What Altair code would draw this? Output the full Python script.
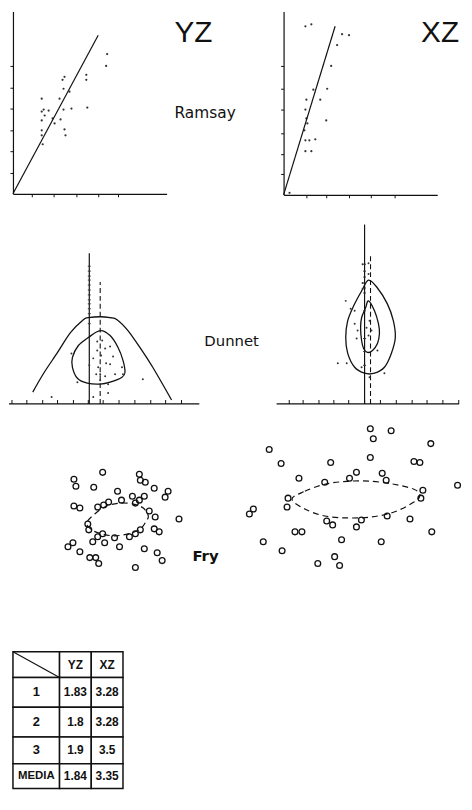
import altair as alt
import pandas as pd

INK = "#111111"
FONT = "DejaVu Sans"

# ---------------- Ramsay (YZ) : points, fitted line, tick values ----------------
ram_yz_x = [29, 29, 31, 36, 32, 29, 29, 29, 30, 40, 42, 48, 47, 51, 52, 53, 59, 75, 57, 51, 52, 50, 74, 74, 95, 94]
ram_yz_y = [96, 83, 85, 84, 79, 74, 64, 59, 50, 76, 71, 75, 96, 85, 65, 59, 86, 87, 103, 106, 118, 115, 120, 115, 141, 129]
ram_yz_line_x = [0, 86]
ram_yz_line_y = [0, 160]
ram_yz_xticks = [19, 41, 64, 86, 106]
ram_yz_yticks = [21, 43, 64, 86, 107, 129]

# ---------------- Ramsay (XZ) ----------------
ram_xz_x = [22, 28, 59, 66, 54, 48, 30, 44, 37, 23, 22, 23, 24, 21, 43, 22, 26, 32, 22, 28, 6]
ram_xz_y = [170, 172, 162, 161, 151, 130, 106, 107, 96, 96, 86, 77, 72, 65, 75, 55, 55, 56, 44, 44, 2]
ram_xz_line_x = [0, 52]
ram_xz_line_y = [0, 170]
ram_xz_xticks = [23, 43, 66, 88, 112]
ram_xz_yticks = [21, 41, 62, 86, 107, 130]

# ---------------- Dunnet (YZ) ----------------
dun_yz_outer_x = [-57, -46, -32, -19, -6, -1, 11, 21, 28, 39, 51, 64, 83]
dun_yz_outer_y = [12, 31, 52, 72, 85, 87, 88, 87, 85, 74, 57, 37, 4]
dun_yz_inner_x = [11, 21, 29, 34, 36, 33, 21, 11, -2, -12, -17, -17, -11, -1]
dun_yz_inner_y = [74, 69, 57, 44, 32, 27, 22, 20, 21, 26, 37, 47, 59, 67]
dun_yz_dot_x = [8, 13, 21, 16, 8, 24, 12, 17, 4, 0, 9, 21, 26, 11, 7, 16, -18, -12, 33, 34, 54, -38, 4, 19, 19, 11]
dun_yz_dot_y = [63, 64, 58, 56, 54, 48, 49, 41, 46, 39, 37, 40, 30, 30, 30, 28, 51, 22, 37, 30, 25, 7, 7, 11, 20, 24]
dun_yz_axis_span = [-81, 111]
dun_yz_axis_ticks = [-78, -63, -47, -32, -16, -1, 14, 30, 46, 62, 77, 93]
dun_yz_line_ticks = [139, 134, 129, 125, 120, 115, 110, 105, 101, 96, 91, 81]
dun_yz_solid = {"x": 0, "top": 152}
dun_yz_dashed = {"x": 11, "top": 123}

# ---------------- Dunnet (XZ) ----------------
dun_xz_outer_x = [4, 13, 23, 29, 31, 27, 20, 10, 0, -10, -17, -19, -17, -11, -3]
dun_xz_outer_y = [125, 117, 101, 84, 67, 51, 37, 31, 31, 37, 51, 67, 84, 99, 114]
dun_xz_inner_x = [4, 10, 14, 15, 13, 8, 3, -1, -3, -4, -3, 1]
dun_xz_inner_y = [104, 94, 81, 71, 61, 54, 52, 56, 64, 77, 87, 97]
dun_xz_dot_x = [-2, 4, 4, -2, -2, -14, -10, -7, -8, 5, 7, 4, 2, 13, -18, -27, -3, 20, 5, -19, -10]
dun_xz_dot_y = [141, 142, 131, 122, 116, 96, 81, 74, 66, 84, 74, 69, 77, 54, 41, 41, 37, 31, 27, 104, 94]
dun_xz_axis_span = [-88.7, 95.3]
dun_xz_axis_ticks = [-76, -62, -46, -31, -16, 0, 16, 32, 48, 63, 79, 95]
dun_xz_line_ticks = [141, 134, 128, 122, 117, 112, 94, 66, 53, 39]
dun_xz_solid = {"x": 0, "top": 181}
dun_xz_dashed = {"x": 6, "top": 151}

# ---------------- Fry (YZ) ----------------
fry_yz_x = [-15, -44, -42, -24, 22, 23, 28, 37, 51, 48, 0, 4, 15, 27, 22, 18, -9, -14, -20, -44, -38, 32, 38, 62,
            -30, -29, 37, 42, -15, -20, 23, 18, 12, -3, -25, -13, 2, -45, -50, -38, 27, 40, 45, -28, -22, -19, 18]
fry_yz_y = [47, 40, 33, 32, 45, 39, 37, 31, 28, 22, 28, 19, 23, 23, 19, 16, 17, 14, 12, 13, 11, 8, 2, 0,
            -5, -11, -10, -13, -15, -18, -11, -15, -18, -19, -23, -24, -28, -24, -28, -33, -30, -34, -42, -39, -39, -45, -49]
fry_yz_ell_x = [-31, -23, -11, 3, 16, 26, 31, 29, 23, 11, -3, -16, -26]
fry_yz_ell_y = [-4, 5, 13, 16, 15, 11, 3, -2, -10, -15, -17, -15, -11]

# ---------------- Fry (XZ) ----------------
fry_xz_x = [15, 36, 18, 76, -87, -75, -25, 15, 59, 65, 1, 27, 31, -57, -31, -6, 103, 68, 66,
            -68, -69, -103, -107, -29, -23, 1, 6, 32, 55, 77, -61, -54, -14, 26, -93, -74, -21, -38, -16]
fry_xz_y = [71, 69, 61, 56, 50, 36, 37, 42, 38, 37, 27, 26, 19, 21, 17, 21, 14, 9, 1,
            1, -8, -10, -15, -22, -26, -28, -21, -17, -20, -33, -33, -33, -41, -43, -43, -52, -58, -65, -67]
fry_xz_ell_x = [-64, -51, -31, -8, 16, 39, 59, 65, 59, 39, 16, -8, -31, -51]
fry_xz_ell_y = [0, 8, 15, 18, 18, 15, 10, 4, -3, -13, -18, -19, -17, -10]

# ---------------- Table ----------------
table_cols = ["YZ", "XZ"]
table_rows = ["1", "2", "3", "MEDIA"]
ratio_yz = [1.83, 1.8, 1.9, 1.84]
ratio_xz = [3.28, 3.28, 3.5, 3.35]

ONE = pd.DataFrame({"k": [0]})


def qs(dom, reverse=False):
    if reverse:
        return alt.Scale(domain=dom, nice=False, zero=False, reverse=True)
    return alt.Scale(domain=dom, nice=False, zero=False)


def label(text, x, y, size, weight="normal", font=FONT, align="left"):
    return alt.Chart(ONE).mark_text(
        text=text, fontSize=size, fontWeight=weight, font=font, align=align,
        baseline="alphabetic", color=INK).encode(x=alt.value(x), y=alt.value(y))


def ramsay(px, py, lx, ly, xt, yt, w, h, texts):
    ax = dict(labels=False, title=None, grid=False, tickSize=3, tickColor=INK, tickWidth=1,
              domainColor=INK, domainWidth=1.2)
    X = alt.X("x:Q", scale=qs([0, w]), axis=alt.Axis(values=xt, **ax))
    Y = alt.Y("y:Q", scale=qs([0, h]), axis=alt.Axis(values=yt, **ax))
    pts = alt.Chart(pd.DataFrame({"x": px, "y": py})).mark_circle(
        size=5, color="#333333", opacity=1).encode(x=X, y=Y)
    ln = alt.Chart(pd.DataFrame({"x": lx, "y": ly})).mark_line(
        color=INK, strokeWidth=1.2).encode(x=X, y=Y)
    return alt.layer(pts, ln, *texts).properties(width=w, height=h)


def dunnet(ox, oy, outer_interp, ix, iy, dx, dy, span, axis_ticks, line_ticks, solid, dashed,
           xdom, w, h, texts):
    X = alt.X("x:Q", scale=qs(xdom), axis=None)
    Y = alt.Y("y:Q", scale=qs([0, h]), axis=None)
    base = alt.Chart(pd.DataFrame({"x": [span[0]], "x2": [span[1]], "y": [0]})).mark_rule(
        color=INK, strokeWidth=1.2).encode(x=X, x2="x2:Q", y=Y)
    outer = alt.Chart(pd.DataFrame({"x": ox, "y": oy, "i": list(range(len(ox)))})).mark_line(
        color=INK, strokeWidth=1.3, interpolate=outer_interp).encode(x=X, y=Y, order="i:Q")
    inner = alt.Chart(pd.DataFrame({"x": ix, "y": iy, "i": list(range(len(ix)))})).mark_line(
        color=INK, strokeWidth=1.3, interpolate="cardinal-closed").encode(x=X, y=Y, order="i:Q")
    dots = alt.Chart(pd.DataFrame({"x": dx, "y": dy})).mark_circle(
        size=4, color="#333333", opacity=1).encode(x=X, y=Y)
    solid_df = pd.DataFrame({"x": [solid["x"]], "y": [0], "y2": [solid["top"]]})
    dashed_df = pd.DataFrame({"x": [dashed["x"]], "y": [0], "y2": [dashed["top"]]})
    sl = alt.Chart(solid_df).mark_rule(color=INK, strokeWidth=1.2).encode(x=X, y=Y, y2="y2:Q")
    dl = alt.Chart(dashed_df).mark_rule(color=INK, strokeWidth=1.1, strokeDash=[5, 3]).encode(
        x=X, y=Y, y2="y2:Q")
    at = alt.Chart(pd.DataFrame({"x": axis_ticks, "y": [0] * len(axis_ticks)})).mark_tick(
        orient="vertical", size=4, thickness=1, color=INK, opacity=1, yOffset=-2).encode(x=X, y=Y)
    lt = alt.Chart(pd.DataFrame({"x": [solid["x"]] * len(line_ticks), "y": line_ticks})).mark_tick(
        orient="horizontal", size=3, thickness=1, color="#333333", opacity=1).encode(x=X, y=Y)
    return alt.layer(base, outer, inner, sl, dl, at, lt, dots, *texts).properties(width=w, height=h)


def fry(cx, cy, ex, ey, xdom, ydom, w, h, texts):
    X = alt.X("x:Q", scale=qs(xdom), axis=None)
    Y = alt.Y("y:Q", scale=qs(ydom), axis=None)
    circ = alt.Chart(pd.DataFrame({"x": cx, "y": cy})).mark_point(
        shape="circle", size=34, filled=False, strokeWidth=1.3, color=INK, opacity=1
    ).encode(x=X, y=Y)
    ell = alt.Chart(pd.DataFrame({"x": ex, "y": ey, "i": list(range(len(ex)))})).mark_line(
        interpolate="cardinal-closed", strokeDash=[6, 4], strokeWidth=1.2, color=INK
    ).encode(x=X, y=Y, order="i:Q")
    return alt.layer(circ, ell, *texts).properties(width=w, height=h)


# ---------------- panels ----------------
ram_yz = ramsay(ram_yz_x, ram_yz_y, ram_yz_line_x, ram_yz_line_y, ram_yz_xticks, ram_yz_yticks, 155, 184,
                [label("YZ", 163, 30.5, 30, font="Liberation Sans"),
                 label("Ramsay", 163, 108, 15.5)])
ram_xz = ramsay(ram_xz_x, ram_xz_y, ram_xz_line_x, ram_xz_line_y, ram_xz_xticks, ram_xz_yticks, 155, 185,
                [label("XZ", 177, 30.5, 30, font="Liberation Sans", align="right")])

dun_yz = dunnet(dun_yz_outer_x, dun_yz_outer_y, "cardinal", dun_yz_inner_x, dun_yz_inner_y,
                dun_yz_dot_x, dun_yz_dot_y, dun_yz_axis_span, dun_yz_axis_ticks, dun_yz_line_ticks,
                dun_yz_solid, dun_yz_dashed, [-77, 111], 188, 211,
                [label("Dunnet", 193, 153, 15)])
dun_xz = dunnet(dun_xz_outer_x, dun_xz_outer_y, "cardinal-closed", dun_xz_inner_x, dun_xz_inner_y,
                dun_xz_dot_x, dun_xz_dot_y, dun_xz_axis_span, dun_xz_axis_ticks, dun_xz_line_ticks,
                dun_xz_solid, dun_xz_dashed, [-81.7, 95.3], 177, 211, [])

fry_yz = fry(fry_yz_x, fry_yz_y, fry_yz_ell_x, fry_yz_ell_y, [-105.5, 82.5], [-60, 116], 188, 176,
             [label("Fry", 181, 158, 15, weight="bold")])
fry_xz = fry(fry_xz_x, fry_xz_y, fry_xz_ell_x, fry_xz_ell_y, [-72.5, 104.5], [-80, 96], 177, 176, [])

# ---------------- table ----------------
col_w = [47, 32, 32]
row_h = [26, 30, 30, 27, 25]
table_gap = 74
col_edges = [0]
for cw in col_w:
    col_edges.append(col_edges[-1] + cw)
row_edges = [0]
for rh in row_h:
    row_edges.append(row_edges[-1] + rh)
TW, TH = col_edges[-1], row_edges[-1]

cells, texts = [], []
for r in range(len(row_h)):
    for c in range(len(col_w)):
        cells.append({"x0": col_edges[c], "x1": col_edges[c + 1], "y0": row_edges[r], "y1": row_edges[r + 1]})
header = [""] + table_cols
for c in range(1, 3):
    texts.append({"cx": (col_edges[c] + col_edges[c + 1]) / 2, "cy": (row_edges[0] + row_edges[1]) / 2,
                  "t": header[c], "s": 12})
for r, name in enumerate(table_rows):
    cy = (row_edges[r + 1] + row_edges[r + 2]) / 2
    texts.append({"cx": (col_edges[0] + col_edges[1]) / 2, "cy": cy, "t": name,
                  "s": 11.5 if name == "MEDIA" else 13})
    texts.append({"cx": (col_edges[1] + col_edges[2]) / 2, "cy": cy, "t": f"{ratio_yz[r]:g}", "s": 12})
    texts.append({"cx": (col_edges[2] + col_edges[3]) / 2, "cy": cy, "t": f"{ratio_xz[r]:g}", "s": 12})

tx_scale = qs([0, TW])
ty_scale = qs([-table_gap, TH], reverse=True)
TX = alt.X("x0:Q", scale=tx_scale, axis=None)
TY = alt.Y("y0:Q", scale=ty_scale, axis=None)
t_cells = alt.Chart(pd.DataFrame(cells)).mark_rect(fill="white", stroke=INK, strokeWidth=1.5).encode(
    x=TX, x2="x1:Q", y=TY, y2="y1:Q")
t_diag = alt.Chart(pd.DataFrame([{"x0": 0, "x1": col_w[0], "y0": 0, "y1": row_h[0]}])).mark_rule(
    color=INK, strokeWidth=1.2).encode(x=TX, x2="x1:Q", y=TY, y2="y1:Q")
t_text = alt.Chart(pd.DataFrame(texts)).mark_text(
    font="Liberation Sans", fontWeight="bold", baseline="middle", align="center", color=INK
).encode(x=alt.X("cx:Q", scale=tx_scale, axis=None),
         y=alt.Y("cy:Q", scale=ty_scale, axis=None),
         text="t:N", size=alt.Size("s:Q", scale=None, legend=None))
table = alt.layer(t_cells, t_diag, t_text).properties(width=TW, height=TH + table_gap)

# ---------------- layout ----------------
chart = alt.concat(
    ram_yz, ram_xz, dun_yz, dun_xz, fry_yz, fry_xz, table,
    columns=2, align="each", bounds="flush", spacing={"row": 0, "column": 85}
).properties(padding=0, background="white").configure_view(stroke=None)

chart.save("out.html", embed_options={"renderer": "svg", "actions": False})
